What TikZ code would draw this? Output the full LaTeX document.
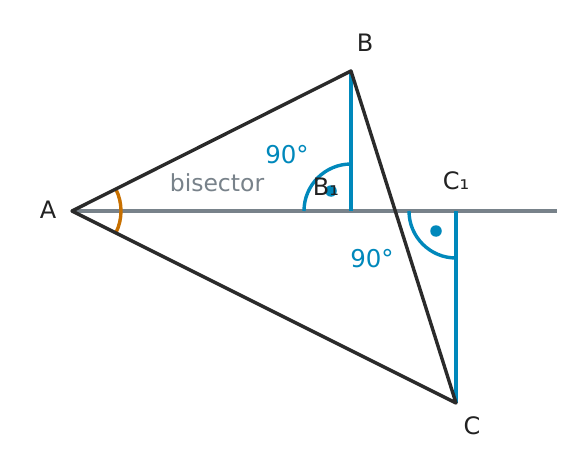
\documentclass[tikz,border=0pt]{standalone}
\usepackage{fontspec}
\setmainfont{DejaVu Sans}
\definecolor{tri}{HTML}{2A2A2A}
\definecolor{blu}{HTML}{0088BB}
\definecolor{ora}{HTML}{C87000}
\definecolor{gry}{HTML}{78828A}
\definecolor{txt}{HTML}{222222}
\begin{document}
\begin{tikzpicture}[x=1pt,y=1pt,
  triline/.style={draw=tri,line width=3.4pt,line join=round},
  blueline/.style={draw=blu,line width=3.4pt},
  bisline/.style={draw=gry,line width=3.4pt},
  lbl/.style={text=txt,font=\fontsize{24}{28}\selectfont,inner sep=0pt},
  bluelbl/.style={text=blu,font=\fontsize{24.5}{28}\selectfont,inner sep=0pt},
  graylbl/.style={text=gry,font=\fontsize{23.5}{28}\selectfont,inner sep=0pt},
  dotmark/.style={fill=blu,draw=none,circle,minimum size=11.5pt,inner sep=0pt}]
\useasboundingbox (0,0) rectangle (576,475);
\coordinate (A) at (72,264);
\coordinate (B) at (351,404);
\coordinate (C) at (456,72);
\coordinate (B1) at (351,264);
\coordinate (C1) at (456,264);
\coordinate (E) at (557,264);
% bisector
\draw[bisline] (A) -- (E);
% perpendiculars
\draw[blueline] (B) -- (B1);
\draw[blueline] (C1) -- (C);
% right angle marks
\draw[blueline] (B1) ++(-47,0) arc[start angle=180,end angle=90,radius=47pt];
\draw[blueline] (C1) ++(-47,0) arc[start angle=180,end angle=270,radius=47pt];
\node[dotmark] (d1) at (331,284) {};
\node[dotmark] (d2) at (436,244) {};
% angle at A
\draw[draw=ora,line width=3.4pt] (A) ++(-26.6:49pt) arc[start angle=-26.6,end angle=26.6,radius=49pt];
% triangle
\draw[triline] (A) -- (B) -- (C) -- cycle;
% labels
\node[lbl] (lA) at (48,265) {A};
\node[lbl] (lB) at (365,432) {B};
\node[lbl] (lC) at (472,49) {C};
\node[lbl] (lB1) at (326,288) {B₁};
\node[lbl] (lC1) at (456,294) {C₁};
\node[bluelbl] (a1) at (287,320) {90°};
\node[bluelbl] (a2) at (372,216) {90°};
\node[graylbl] (bis) at (217,292) {bisector};
\end{tikzpicture}
\end{document}
